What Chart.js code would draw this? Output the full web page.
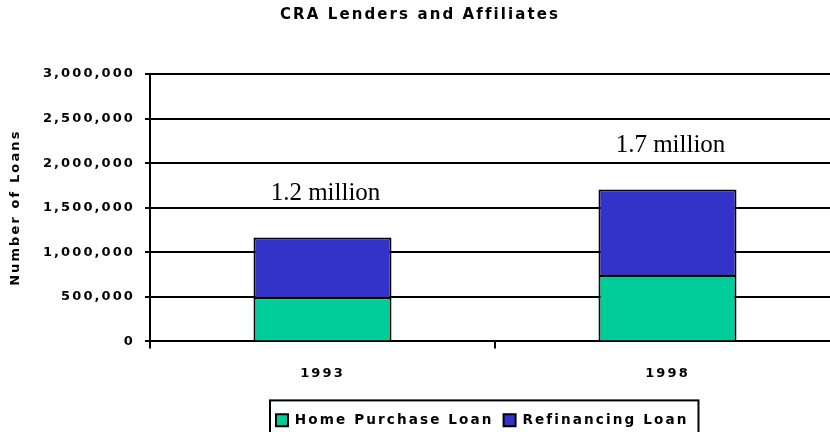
<!DOCTYPE html>
<html>
<head>
<meta charset="utf-8">
<script src="https://cdn.jsdelivr.net/npm/chart.js@4"></script>
<style>
  html, body { margin: 0; padding: 0; background: #fff; overflow: hidden; }
  #grafico { display: block; }
</style>
</head>
<body>
<canvas id="grafico" width="840" height="437"></canvas>
<script>
// Dados do gráfico
const anos = ["1993", "1998"];
const compraCasa = [495000, 745000];
const refinanciamento = [670000, 960000];
const rotulosTotais = ["1.2 million", "1.7 million"];
const marcasY = [0, 500000, 1000000, 1500000, 2000000, 2500000, 3000000];

const FONTE = "'DejaVu Sans', Arial, sans-serif";
const ESPACO = "2.1px";

// espaçamento largo entre letras, como no original; legenda deslocada para a direita
const espacamento = {
  id: "espacamento",
  beforeUpdate(chart) { chart.ctx.letterSpacing = ESPACO; },
  beforeDraw(chart) { chart.ctx.letterSpacing = ESPACO; },
  afterLayout(chart) {
    const lg = chart.legend;
    const pad = lg.options.labels.padding;
    const inicio = (lg.left + pad + lg.right - lg.lineWidths[0]) / 2;
    const desloc = 276 - inicio;
    lg.left += desloc;
    lg.right += desloc;
  }
};

// rótulos "x million" sobre as barras e moldura da legenda
const rotulos = {
  id: "rotulos",
  afterDatasetsDraw(chart) {
    const ctx = chart.ctx;
    const meta = chart.getDatasetMeta(1);
    ctx.save();
    ctx.letterSpacing = "0px";
    ctx.font = "25px 'Liberation Serif', 'Times New Roman', serif";
    ctx.fillStyle = "#000";
    ctx.textAlign = "center";
    ctx.textBaseline = "middle";
    meta.data.forEach((barra, i) => {
      ctx.fillText(rotulosTotais[i], barra.x + 3, barra.y - 44);
    });
    ctx.restore();
  },
  afterDraw(chart) {
    const lg = chart.legend;
    const pad = lg.options.labels.padding;
    const larg = lg.lineWidths[0];
    const inicio = (lg.left + pad + lg.right - larg) / 2;
    const ctx = chart.ctx;
    ctx.save();
    ctx.strokeStyle = "#000";
    ctx.lineWidth = 2;
    ctx.strokeRect(inicio - 6, lg.top - 3, larg + 6, 40);
    ctx.restore();
  }
};

new Chart(document.getElementById("grafico"), {
  type: "bar",
  data: {
    labels: anos,
    datasets: [
      {
        label: "Home Purchase Loan",
        data: compraCasa,
        backgroundColor: "#00CC99",
        borderColor: "#000",
        borderWidth: 2
      },
      {
        label: "Refinancing Loan",
        data: refinanciamento,
        backgroundColor: "#3333CC",
        borderColor: "#000",
        borderWidth: 2
      }
    ]
  },
  options: {
    responsive: false,
    animation: false,
    barPercentage: 0.4,
    categoryPercentage: 1,
    layout: { padding: 0 },
    plugins: {
      title: {
        display: true,
        text: "CRA Lenders and Affiliates",
        color: "#000",
        font: { family: FONTE, size: 15, weight: "bold" },
        padding: { top: 6, bottom: 50 }
      },
      legend: {
        position: "bottom",
        labels: {
          color: "#000",
          font: { family: FONTE, size: 13.6, weight: "bold" },
          boxWidth: 12,
          boxHeight: 12,
          padding: 10
        }
      },
      tooltip: { enabled: false }
    },
    scales: {
      x: {
        stacked: true,
        grid: { display: true, drawOnChartArea: false, drawTicks: true, tickLength: 7, color: "#000", lineWidth: 2 },
        border: { display: true, color: "#000", width: 2 },
        ticks: { color: "#000", font: { family: FONTE, size: 13, weight: "bold" }, padding: 17 },
        afterFit(s) { s.height = 62; }
      },
      y: {
        stacked: true,
        min: 0,
        max: 3000000,
        afterBuildTicks(s) { s.ticks = marcasY.map(v => ({ value: v })); },
        grid: { color: "#000", lineWidth: 2, tickLength: 5 },
        border: { display: true, color: "#000", width: 2 },
        ticks: {
          color: "#000",
          font: { family: FONTE, size: 13, weight: "bold" },
          padding: 10,
          callback: v => v.toLocaleString("en-US")
        },
        title: {
          display: true,
          text: "Number of Loans",
          color: "#000",
          font: { family: FONTE, size: 13, weight: "bold" },
          padding: { top: 8, bottom: 0 }
        },
        afterFit(s) { s.width = 150; }
      }
    }
  },
  plugins: [espacamento, rotulos]
});
</script>
</body>
</html>
